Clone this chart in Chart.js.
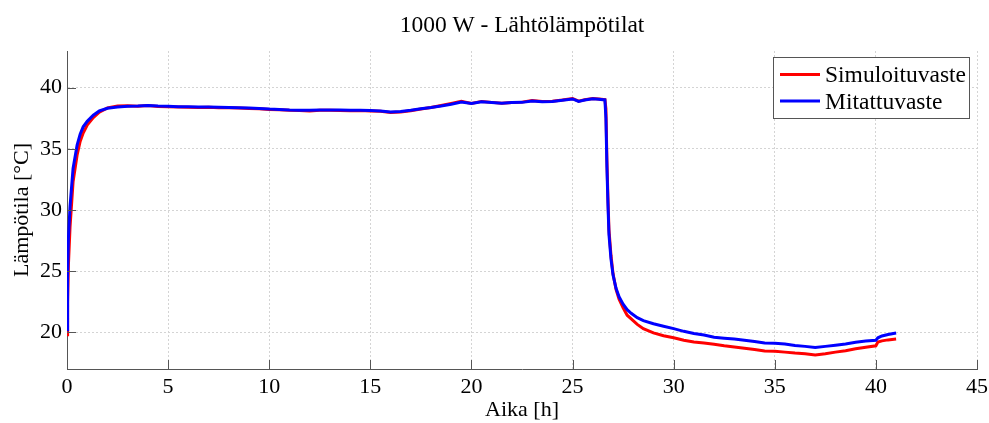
<!DOCTYPE html>
<html>
<head>
<meta charset="utf-8">
<script src="https://cdn.jsdelivr.net/npm/chart.js@4/dist/chart.umd.min.js"></script>
<style>
html,body{margin:0;padding:0;background:#fff;}
#wrap{width:989px;height:423px;position:relative;}
</style>
</head>
<body>
<div id="wrap"><canvas id="c" width="989" height="423"></canvas></div>
<script>
// ---- data ----
const chartTitle = "1000 W - Lähtölämpötilat";
const xTitle = "Aika [h]";
const yTitle = "Lämpötila [°C]";
const seriesNames = ["Simuloituvaste", "Mitattuvaste"];
const xTicks = [0, 5, 10, 15, 20, 25, 30, 35, 40, 45];
const yTicks = [20, 25, 30, 35, 40];

const timeH = [0, 0.03, 0.07, 0.15, 0.3, 0.5, 0.65, 0.8, 1.0, 1.3, 1.6, 2.0, 2.5, 3.0, 3.5, 4.0, 4.5, 5.0, 5.5, 6, 6.5, 7, 7.5, 8, 8.5, 9, 9.5, 10, 10.5, 11, 11.5, 12, 12.5, 13, 13.5, 14, 14.5, 15, 15.5, 16, 16.5, 17, 17.5, 18, 18.5, 19, 19.5, 20, 20.5, 21, 21.5, 22, 22.5, 23, 23.5, 24, 24.5, 25, 25.3, 25.6, 26, 26.3, 26.6, 26.65, 26.7, 26.75, 26.8, 26.9, 27.0, 27.15, 27.3, 27.5, 27.7, 27.9, 28.2, 28.5, 29, 29.5, 30, 30.5, 31, 31.5, 32, 32.5, 33, 33.5, 34, 34.5, 35, 35.5, 36, 36.5, 37, 37.5, 38, 38.5, 39, 39.5, 40, 40.1, 40.3, 40.6, 41.0];

const simulated = [19.8, 22.5, 25.5, 28.6, 32.3, 34.5, 35.6, 36.3, 36.95, 37.55, 38.0, 38.35, 38.5, 38.52, 38.48, 38.55, 38.47, 38.45, 38.42, 38.4, 38.38, 38.4, 38.36, 38.35, 38.33, 38.3, 38.28, 38.22, 38.2, 38.15, 38.14, 38.1, 38.15, 38.16, 38.14, 38.12, 38.13, 38.1, 38.07, 37.98, 38.02, 38.12, 38.25, 38.38, 38.55, 38.72, 38.88, 38.72, 38.88, 38.8, 38.72, 38.78, 38.82, 38.95, 38.88, 38.9, 39.0, 39.12, 38.9, 39.02, 39.12, 39.08, 39.02, 38.3, 34.0, 31.0, 28.4, 26.3, 24.8, 23.5, 22.7, 22.0, 21.4, 21.1, 20.65, 20.3, 19.95, 19.72, 19.55, 19.35, 19.2, 19.12, 19.02, 18.9, 18.8, 18.7, 18.6, 18.48, 18.45, 18.38, 18.3, 18.25, 18.15, 18.25, 18.38, 18.5, 18.65, 18.78, 18.9, 19.2, 19.3, 19.38, 19.45];

const measured = [20.2, 24.5, 27.7, 30.3, 33.4, 35.3, 36.2, 36.8, 37.25, 37.75, 38.1, 38.32, 38.42, 38.48, 38.5, 38.55, 38.5, 38.48, 38.45, 38.45, 38.42, 38.43, 38.4, 38.38, 38.36, 38.33, 38.3, 38.25, 38.22, 38.18, 38.16, 38.15, 38.17, 38.18, 38.17, 38.15, 38.15, 38.13, 38.1, 38.02, 38.05, 38.15, 38.28, 38.38, 38.5, 38.65, 38.82, 38.7, 38.85, 38.78, 38.72, 38.78, 38.8, 38.92, 38.85, 38.88, 38.98, 39.08, 38.88, 39.0, 39.1, 39.05, 39.0, 37.5, 33.5, 30.5, 28.0, 26.0, 24.7, 23.6, 22.9, 22.3, 21.85, 21.55, 21.2, 20.95, 20.7, 20.5, 20.3, 20.08, 19.9, 19.78, 19.6, 19.52, 19.45, 19.35, 19.25, 19.12, 19.1, 19.05, 18.92, 18.85, 18.75, 18.85, 18.95, 19.05, 19.18, 19.28, 19.35, 19.55, 19.7, 19.82, 19.95];

const FONT = "'Liberation Serif', 'Times New Roman', serif";
const AXIS_COLOR = '#555555';

function pts(vals) { return timeH.map((t, i) => ({ x: t, y: vals[i] })); }

const innerTicks = {
  id: 'innerTicks',
  afterDraw(chart) {
    const ctx = chart.ctx, xs = chart.scales.x, ys = chart.scales.y;
    const a = chart.chartArea;
    ctx.save();
    ctx.strokeStyle = AXIS_COLOR;
    ctx.lineWidth = 1;
    ctx.beginPath();
    yTicks.forEach(v => {
      const py = Math.round(ys.getPixelForValue(v)) + 0.5;
      ctx.moveTo(a.left, py); ctx.lineTo(a.left + 9, py);
    });
    xTicks.forEach(v => {
      const px = Math.round(xs.getPixelForValue(v)) + 0.5;
      ctx.moveTo(px, a.bottom); ctx.lineTo(px, a.bottom - 9);
    });
    ctx.stroke();
    ctx.restore();
  }
};

const plotTitle = {
  id: 'plotTitle',
  afterDraw(chart) {
    const ctx = chart.ctx, a = chart.chartArea;
    ctx.save();
    ctx.font = "23.5px " + FONT;
    ctx.fillStyle = '#000';
    ctx.textAlign = 'center';
    ctx.textBaseline = 'alphabetic';
    ctx.fillText(chartTitle, (a.left + a.right) / 2, a.top - 19);
    ctx.restore();
  }
};

const boxLegend = {
  id: 'boxLegend',
  afterDatasetsDraw(chart) {
    const ctx = chart.ctx, a = chart.chartArea;
    const w = 196, h = 61;
    const x0 = Math.round(a.right - 8 - w) + 0.5, y0 = Math.round(a.top + 6) + 0.5;
    ctx.save();
    ctx.fillStyle = '#ffffff';
    ctx.fillRect(x0, y0, w, h);
    ctx.strokeStyle = AXIS_COLOR;
    ctx.lineWidth = 1;
    ctx.strokeRect(x0, y0, w, h);
    ctx.font = "23.5px " + FONT;
    ctx.textBaseline = 'alphabetic';
    ctx.textAlign = 'left';
    chart.data.datasets.forEach((ds, i) => {
      const cy = y0 + 17 + i * 26.5;
      ctx.strokeStyle = ds.borderColor;
      ctx.lineWidth = 3;
      ctx.beginPath();
      ctx.moveTo(x0 + 6.5, cy); ctx.lineTo(x0 + 46.5, cy);
      ctx.stroke();
      ctx.fillStyle = '#000';
      ctx.fillText(ds.label, x0 + 51.5, cy + 7.5);
    });
    ctx.restore();
  }
};

new Chart(document.getElementById('c'), {
  type: 'line',
  data: {
    datasets: [
      { label: seriesNames[0], data: pts(simulated), borderColor: '#ff0000', borderWidth: 3, pointRadius: 0, tension: 0, order: 1 },
      { label: seriesNames[1], data: pts(measured), borderColor: '#0000ff', borderWidth: 3, pointRadius: 0, tension: 0, order: 0 }
    ]
  },
  options: {
    responsive: false,
    animation: false,
    layout: { padding: { left: 0, right: 12, top: 51, bottom: 0 } },
    plugins: {
      legend: { display: false },
      tooltip: { enabled: false },
      title: { display: false }
    },
    scales: {
      x: {
        type: 'linear', min: 0, max: 45,
        ticks: { stepSize: 5, color: '#000', font: { family: FONT, size: 22 }, padding: 5, maxRotation: 0 },
        afterBuildTicks: s => { s.ticks = xTicks.map(v => ({ value: v })); },
        grid: { color: '#d4d4d4', drawTicks: false, lineWidth: 1 },
        border: { display: true, color: AXIS_COLOR, width: 1, dash: [2, 2] },
        title: { display: true, text: xTitle, color: '#000', font: { family: FONT, size: 22 }, padding: { top: 0, bottom: 0 } },
        afterFit: s => { s.height = 54; s.paddingRight = 0; s.paddingLeft = 0; }
      },
      y: {
        type: 'linear', min: 17, max: 43,
        ticks: { color: '#000', font: { family: FONT, size: 22 }, padding: 5 },
        afterBuildTicks: s => { s.ticks = yTicks.map(v => ({ value: v })); },
        grid: { color: '#d4d4d4', drawTicks: false, lineWidth: 1 },
        border: { display: true, color: AXIS_COLOR, width: 1, dash: [2, 2] },
        title: { display: true, text: yTitle, color: '#000', font: { family: FONT, size: 22 }, padding: { top: 9, bottom: 0 } },
        afterFit: s => { s.width = 67; s.paddingTop = 0; s.paddingBottom = 0; }
      }
    }
  },
  plugins: [innerTicks, boxLegend, plotTitle]
});
</script>
</body>
</html>
